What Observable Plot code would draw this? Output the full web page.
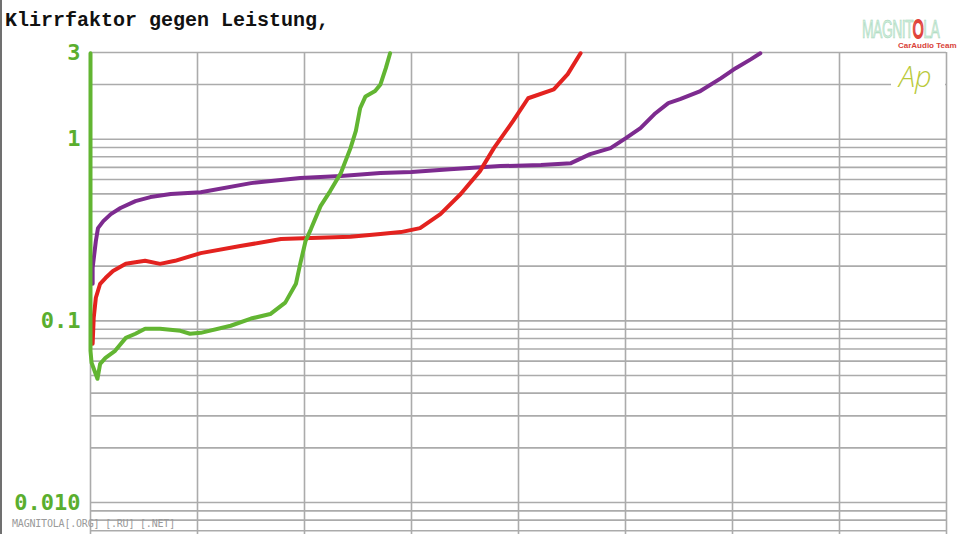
<!DOCTYPE html>
<html><head><meta charset="utf-8">
<script src="https://cdn.jsdelivr.net/npm/d3@7"></script>
<script src="https://cdn.jsdelivr.net/npm/@observablehq/plot@0.6"></script>
<style>
body{margin:0;background:#fff;}
#wrap{position:relative;width:963px;height:534px;overflow:hidden;background:#fff;}
#edge{position:absolute;left:0;top:0;width:2px;height:534px;background:#707070;}
#title{height:40px;box-sizing:border-box;padding:11px 0 0 5px;font:bold 20px/20px "Liberation Mono",monospace;color:#111;white-space:pre;}
#chart svg{display:block;}
#apbox{position:absolute;left:891px;top:55px;width:54px;height:38px;background:#fff;}
#ap{position:absolute;left:899px;top:56px;font:italic 300 29px "Open Sans",sans-serif;color:#b9c93a;}
#logo{position:absolute;left:862px;top:19px;font:25px/21px "Liberation Sans Narrow","Liberation Sans",sans-serif;color:#cfeedd;-webkit-text-stroke:0.6px #9fd3b4;letter-spacing:-1px;transform:scaleX(0.56);transform-origin:left top;white-space:nowrap;}
#logo .o{color:#fff;-webkit-text-stroke:2px #e0433a;}
#team{position:absolute;left:898px;top:41px;font:bold 8px/9px "Liberation Sans",sans-serif;color:#d9443a;white-space:nowrap;}
#wm{position:absolute;left:12px;top:518px;font:10px "DejaVu Sans Mono",monospace;color:#9a9a9a;letter-spacing:-0.2px;white-space:nowrap;}
</style>
</head>
<body>
<div id="wrap">
  <div id="title">Klirrfaktor gegen Leistung,</div>
  <div id="chart"></div>
  <div id="edge"></div>
  <div id="apbox"></div>
  <div id="ap">Ap</div>
  <div id="logo">MAGNIT<span class="o">O</span>LA</div>
  <div id="team">CarAudio Team</div>
  <div id="wm">MAGNITOLA[.ORG] [.RU] [.NET]</div>
</div>
<script>
// x: Leistung (grid divisions), y: Klirrfaktor (%)
const xTicks = [0, 1, 2, 3, 4, 5, 6, 7, 8];
const yTicks = [0.01, 0.1, 1, 3];
const yTickLabels = ["0.010", "0.1", "1", "3"];
const yGrid = [0.007, 0.008, 0.009, 0.01, 0.02, 0.03, 0.04, 0.05, 0.06, 0.07, 0.08, 0.09,
  0.1, 0.2, 0.3, 0.4, 0.5, 0.6, 0.7, 0.8, 0.9, 1, 2, 3];

const purple = [
  [0.02, 0.160], [0.02, 0.196], [0.05, 0.275], [0.07, 0.324], [0.12, 0.354], [0.19, 0.387],
  [0.28, 0.418], [0.42, 0.456], [0.56, 0.480], [0.75, 0.499], [1.03, 0.511], [1.50, 0.573],
  [1.96, 0.611], [2.34, 0.627], [2.71, 0.651], [3.00, 0.659], [3.36, 0.684], [3.83, 0.711],
  [4.21, 0.720], [4.49, 0.738], [4.67, 0.828], [4.86, 0.893], [5.00, 1.01], [5.14, 1.15],
  [5.28, 1.39], [5.40, 1.58], [5.51, 1.66], [5.70, 1.84], [5.89, 2.16], [6.03, 2.46],
  [6.17, 2.75], [6.26, 2.97]
];
const red = [
  [0.02, 0.0748], [0.03, 0.104], [0.05, 0.134], [0.09, 0.160], [0.14, 0.172], [0.21, 0.188],
  [0.33, 0.206], [0.51, 0.214], [0.65, 0.206], [0.79, 0.214], [1.03, 0.236], [1.40, 0.258],
  [1.78, 0.282], [2.06, 0.286], [2.43, 0.290], [2.71, 0.301], [2.90, 0.308], [3.08, 0.324],
  [3.27, 0.387], [3.46, 0.499], [3.64, 0.667], [3.77, 0.893], [3.95, 1.26], [4.09, 1.68],
  [4.33, 1.88], [4.46, 2.28], [4.58, 2.97]
];
const green = [
  [0.00, 2.97], [0.00, 0.0684], [0.01, 0.0588], [0.065, 0.048], [0.09, 0.058], [0.14, 0.0626],
  [0.23, 0.0684], [0.33, 0.0806], [0.42, 0.0849], [0.51, 0.0904], [0.65, 0.0904], [0.84, 0.0881],
  [0.93, 0.0849], [1.03, 0.0859], [1.31, 0.094], [1.50, 0.103], [1.68, 0.109], [1.82, 0.126],
  [1.92, 0.160], [1.96, 0.206], [2.01, 0.275], [2.06, 0.320], [2.15, 0.428], [2.24, 0.518],
  [2.34, 0.651], [2.43, 0.893], [2.48, 1.11], [2.52, 1.48], [2.57, 1.72], [2.66, 1.84],
  [2.71, 2.00], [2.76, 2.46], [2.80, 2.97]
];

const gridColor = "#ababab";
const lineOpts = {x: d => d[0], y: d => d[1], strokeWidth: 4, strokeLinejoin: "round", strokeLinecap: "round"};

const chart = Plot.plot({
  width: 963,
  height: 494,
  marginTop: 12,
  marginBottom: 0,
  marginLeft: 90,
  marginRight: 17,
  x: {domain: [0, 8], axis: null},
  y: {type: "log", domain: [0.00667, 3], axis: null},
  marks: [
    Plot.gridY(yGrid, {stroke: gridColor, strokeOpacity: 1, strokeWidth: 1.6}),
    Plot.gridX(xTicks, {stroke: gridColor, strokeOpacity: 1, strokeWidth: 1.6}),
    Plot.axisY(yTicks, {
      anchor: "left", tickSize: 0, tickPadding: 10, label: null,
      tickFormat: d => yTickLabels[yTicks.indexOf(d)],
      fill: "#5aae2e", fontSize: 22, fontWeight: "bold", fontFamily: "DejaVu Sans Mono"
    }),
    Plot.line(purple, {...lineOpts, stroke: "#7d2b8f"}),
    Plot.line(red, {...lineOpts, stroke: "#e3221f"}),
    Plot.line(green, {...lineOpts, stroke: "#62b532"})
  ]
});
document.getElementById("chart").appendChild(chart);
</script>
</body></html>
